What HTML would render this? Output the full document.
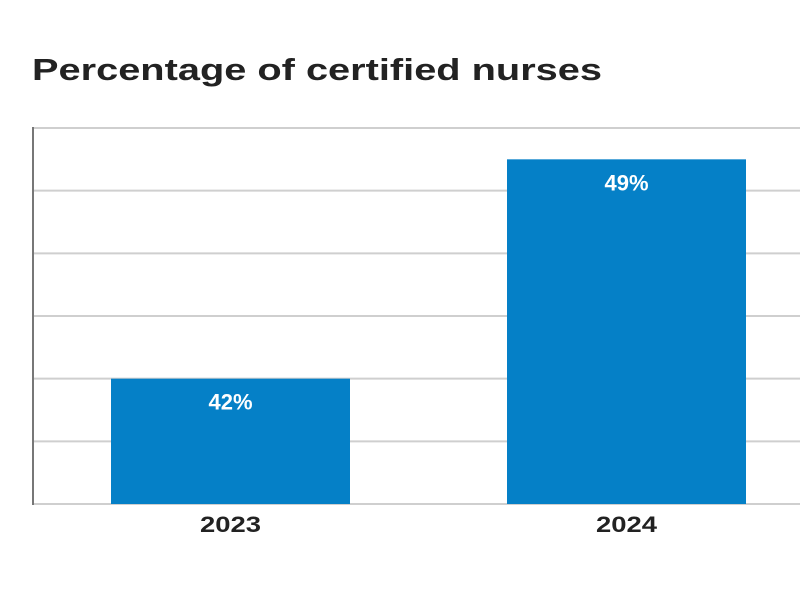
<!DOCTYPE html>
<html><head><meta charset="utf-8"><style>
body{margin:0;background:#fff;width:800px;height:600px;overflow:hidden;font-family:"Liberation Sans",sans-serif}
</style></head><body>
<svg width="800" height="600">
<text x="32" y="80" font-size="31" font-weight="bold" fill="#222" textLength="570" lengthAdjust="spacingAndGlyphs">Percentage of certified nurses</text>
<g id="grid"></g><g id="bars"></g>
</svg>
<script>
const categories=["2023","2024"];
const values=[42,49];
const labels=["42%","49%"];
const yMin=38,yMax=50,yStep=2;
const plotTop=128,plotBottom=504,plotLeft=33;
const yScale=v=>plotBottom-(v-yMin)/(yMax-yMin)*(plotBottom-plotTop);
const xCenter=i=>230.5+i*396;
const bw=239;
const ns="http://www.w3.org/2000/svg";
const g=document.getElementById('grid'),b=document.getElementById('bars');
function mk(t,a,p){const e=document.createElementNS(ns,t);for(const k in a)e.setAttribute(k,a[k]);p.appendChild(e);return e;}
for(let v=yMin;v<=yMax;v+=yStep){
 const l=mk('line',{x1:plotLeft,x2:800,y1:yScale(v),y2:yScale(v),stroke:'#cfcfcf','stroke-width':2},g);
 
 
}
const ax=mk('line',{x1:plotLeft,x2:plotLeft,y1:plotTop-1,y2:plotBottom+1,stroke:'#777','stroke-width':2},g);


categories.forEach((c,i)=>{
 const r=mk('rect',{x:xCenter(i)-bw/2,y:yScale(values[i]),width:bw,height:plotBottom-yScale(values[i]),fill:'#0580c7'},b);
 
 
 const t=mk('text',{x:xCenter(i),y:yScale(values[i])+31,'text-anchor':'middle','font-size':22,'font-weight':'bold',fill:'#fff'},b);
 t.textContent=labels[i];
 
 
 const x=mk('text',{x:xCenter(i),y:532,'text-anchor':'middle','font-size':22,'font-weight':'bold',fill:'#222',textLength:61,lengthAdjust:'spacingAndGlyphs'},b);
 x.textContent=c;
 
 
});
</script>
</body></html>
